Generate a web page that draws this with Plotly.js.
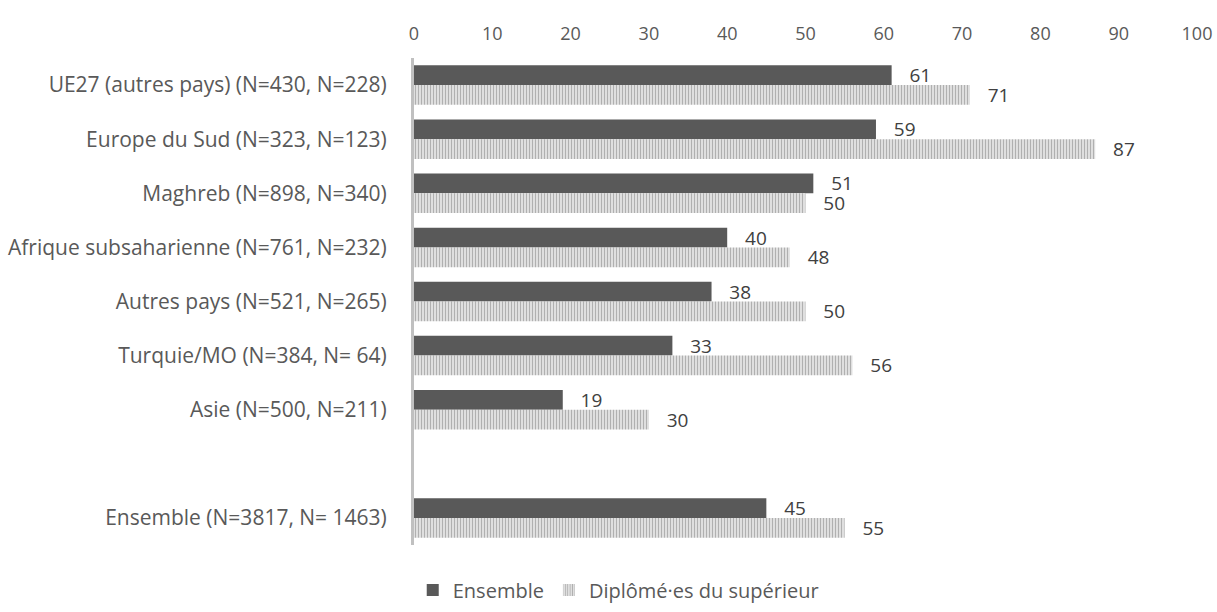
<!DOCTYPE html>
<html>
<head>
<meta charset="utf-8">
<script src="https://cdn.plot.ly/plotly-3.0.1.min.js"></script>
<style>html,body{margin:0;padding:0;background:#fff;}#chart{width:1217px;height:612px;}</style>
</head>
<body>
<div id="chart"></div>
<script>
var categories = ["UE27 (autres pays) (N=430, N=228)", "Europe du Sud (N=323, N=123)", "Maghreb (N=898, N=340)", "Afrique subsaharienne (N=761, N=232)", "Autres pays (N=521, N=265)", "Turquie/MO (N=384, N= 64)", "Asie (N=500, N=211)", " ", "Ensemble (N=3817, N= 1463)"];
var ensemble = [61, 59, 51, 40, 38, 33, 19, null, 45];
var diplomes = [71, 87, 50, 48, 50, 56, 30, null, 55];
var seriesNames = ["Ensemble", "Diplômé·es du supérieur"];
var xTicks = [0, 10, 20, 30, 40, 50, 60, 70, 80, 90, 100];

var font = "'Open Sans', sans-serif";
var pad = "\u00a0\u00a0\u00a0";
function lbl(v){ return v === null ? "" : pad + String(v); }

var traces = [
  {
    type: "bar", orientation: "h", name: seriesNames[0],
    y: categories, x: ensemble,
    text: ensemble.map(lbl),
    textposition: "outside", cliponaxis: false, constraintext: "none",
    textfont: {family: font, size: 19, color: "#404040"},
    marker: {color: "#595959"},
    hoverinfo: "x+y"
  },
  {
    type: "bar", orientation: "h", name: seriesNames[1],
    y: categories, x: diplomes,
    text: diplomes.map(lbl),
    textposition: "outside", cliponaxis: false, constraintext: "none",
    textfont: {family: font, size: 19, color: "#404040"},
    marker: {color: "#e4e4e4", pattern: {shape: "|", fgcolor: "#b0b0b0", bgcolor: "#e4e4e4", size: 3, solidity: 0.4}},
    hoverinfo: "x+y"
  }
];

var layout = {
  width: 1217, height: 612,
  margin: {l: 414, r: 20, t: 58, b: 67},
  paper_bgcolor: "#ffffff", plot_bgcolor: "#ffffff",
  barmode: "group", bargap: 0.27, bargroupgap: 0,
  font: {family: font, color: "#595959", size: 18},
  xaxis: {
    side: "top", range: [0, 100], tickvals: xTicks, ticktext: xTicks.map(String),
    showgrid: false, zeroline: false, showline: false, ticks: "",
    ticklabelstandoff: 13, automargin: false,
    tickfont: {family: font, size: 18, color: "#595959"}
  },
  yaxis: {
    type: "category", categoryorder: "array", categoryarray: categories,
    autorange: "reversed", showgrid: false, zeroline: false,
    showline: true, linecolor: "#c0c0c0", linewidth: 3, ticks: "",
    ticklabelstandoff: 20, automargin: false,
    tickfont: {family: font, size: 21, color: "#595959"}
  },
  showlegend: true,
  legend: {orientation: "h", xref: "container", x: 0.508, xanchor: "center",
    yref: "container", y: 0.036, yanchor: "middle",
    itemwidth: 30,
    font: {family: font, size: 20, color: "#595959"}, traceorder: "normal"}
};

Plotly.newPlot("chart", traces, layout, {displayModeBar: false, staticPlot: true});
</script>
</body>
</html>
